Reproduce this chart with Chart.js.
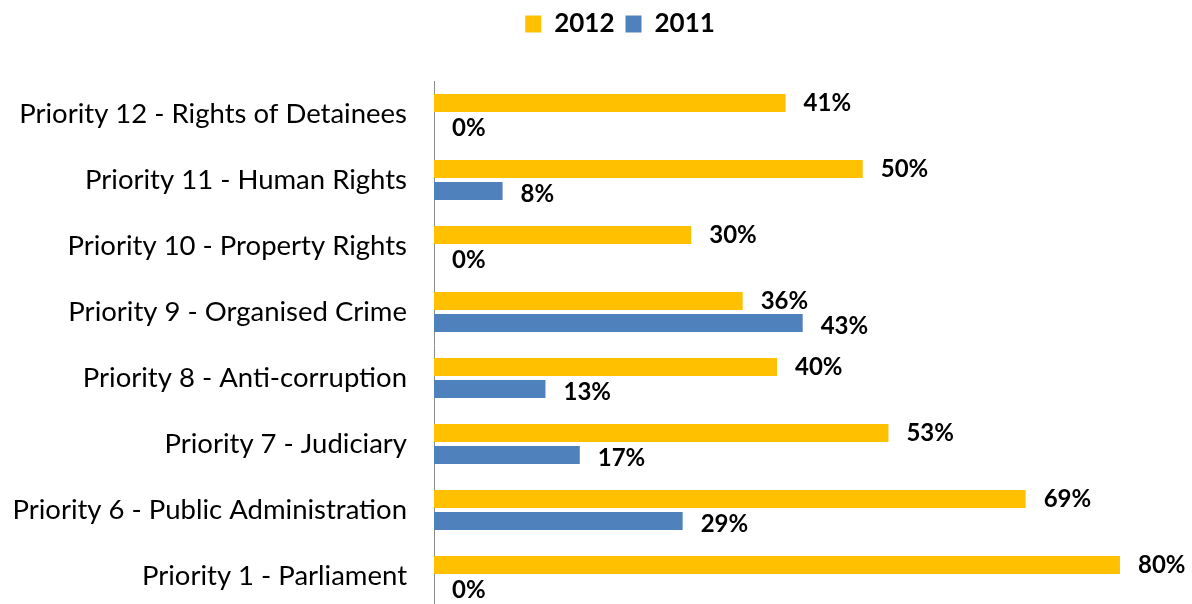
<!DOCTYPE html>
<html>
<head>
<meta charset="utf-8">
<script src="https://cdn.jsdelivr.net/npm/chart.js@4"></script>
<style>
  body { margin: 0; background: #fff; overflow: hidden; }
  #wrap { width: 1240px; height: 610px; }
</style>
</head>
<body>
<div id="wrap"><canvas id="priorityChart" width="1240" height="610"></canvas></div>
<script>
// categories, top to bottom
const categories = [
    'Priority 12 - Rights of Detainees',
    'Priority 11 - Human Rights',
    'Priority 10 - Property Rights',
    'Priority 9 - Organised Crime',
    'Priority 8 - Anti-corruption',
    'Priority 7 - Judiciary',
    'Priority 6 - Public Administration',
    'Priority 1 - Parliament'
];
const values2012 = [41, 50, 30, 36, 40, 53, 69, 80];
const values2011 = [0, 8, 0, 43, 13, 17, 29, 0];

const colour2012 = '#FFC000';
const colour2011 = '#4F81BD';
const fontFamily = 'Lato, "Open Sans", sans-serif';
const legendGap = 34; // empty space between legend and first bar group

// draws the "41%" style labels next to each bar end
const valueLabels = {
    id: 'valueLabels',
    afterDatasetsDraw(chart) {
        const ctx = chart.ctx;
        ctx.save();
        ctx.font = 'bold 24px ' + fontFamily;
        ctx.fillStyle = '#000';
        ctx.textAlign = 'left';
        ctx.textBaseline = 'middle';
        chart.data.datasets.forEach((ds, i) => {
            const meta = chart.getDatasetMeta(i);
            const dy = i === 0 ? 0 : 3;
            meta.data.forEach((bar, j) => {
                ctx.fillText(ds.data[j] + '%', bar.x + 18, bar.y + dy);
            });
        });
        ctx.restore();
    }
};

// legend has no bottom margin option, so stretch its box a bit
const legendSpacing = {
    id: 'legendSpacing',
    beforeInit(chart) {
        const fitLegend = chart.legend.fit;
        chart.legend.fit = function () {
            fitLegend.call(this);
            this.height += legendGap;
        };
    }
};

new Chart(document.getElementById('priorityChart'), {
    type: 'bar',
    data: {
        labels: categories,
        datasets: [
            {
                label: '2012',
                data: values2012,
                backgroundColor: colour2012,
                categoryPercentage: 0.667,
                barPercentage: 0.82
            },
            {
                label: '2011',
                data: values2011,
                backgroundColor: colour2011,
                categoryPercentage: 0.667,
                barPercentage: 0.82
            }
        ]
    },
    options: {
        indexAxis: 'y',
        responsive: false,
        animation: false,
        layout: { padding: { left: 0, right: 0, top: 0, bottom: 1 } },
        scales: {
            x: {
                display: false,
                min: 0,
                max: 94
            },
            y: {
                afterFit(scale) {
                    scale.width = 434;
                    scale.paddingTop = 0;
                    scale.paddingBottom = 0;
                },
                grid: { display: false, drawTicks: false },
                border: { display: true, color: '#8c8c8c', width: 1 },
                ticks: {
                    color: '#000',
                    padding: 27,
                    font: { family: fontFamily, size: 27.5 }
                }
            }
        },
        plugins: {
            legend: {
                position: 'top',
                labels: {
                    color: '#000',
                    boxWidth: 16,
                    boxHeight: 17,
                    padding: 11,
                    font: { family: fontFamily, size: 26, weight: 'bold' }
                }
            },
            tooltip: { enabled: false }
        }
    },
    plugins: [valueLabels, legendSpacing]
});
</script>
</body>
</html>
